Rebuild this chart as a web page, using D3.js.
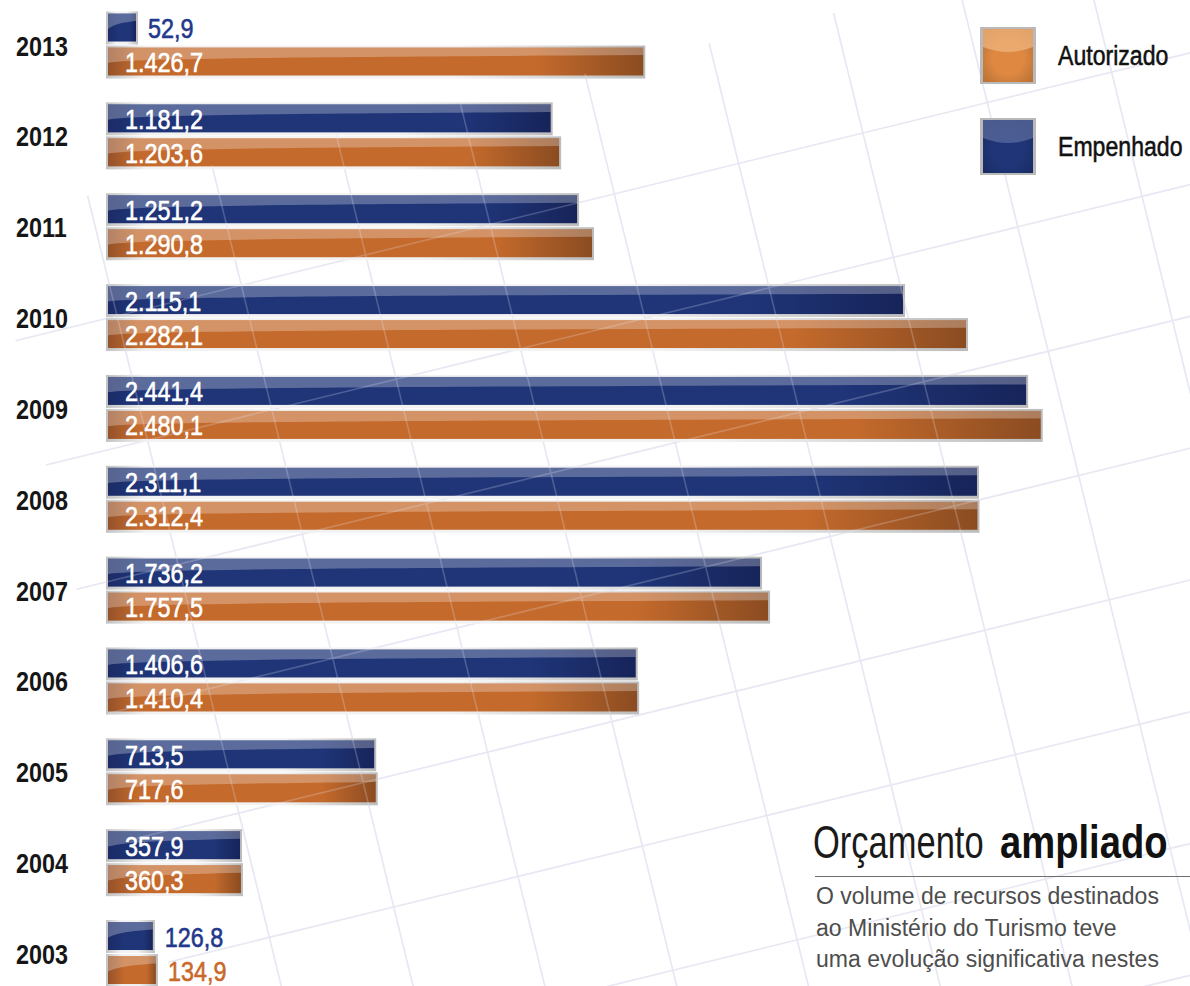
<!DOCTYPE html>
<html>
<head>
<meta charset="utf-8">
<script src="https://cdn.jsdelivr.net/npm/d3@7"></script>
<style>
  html, body { margin: 0; padding: 0; background: #fff; }
  svg { display: block; }
</style>
</head>
<body>
<svg id="chart" width="1190" height="986"></svg>
<script>
// Orçamento do Ministério do Turismo (R$ milhões), 2003–2013
const years = [2013, 2012, 2011, 2010, 2009, 2008, 2007, 2006, 2005, 2004, 2003];
const empenhado  = [52.9, 1181.2, 1251.2, 2115.1, 2441.4, 2311.1, 1736.2, 1406.6, 713.5, 357.9, 126.8];
const autorizado = [1426.7, 1203.6, 1290.8, 2282.1, 2480.1, 2312.4, 1757.5, 1410.4, 717.6, 360.3, 134.9];
const seriesKeys = ["empenhado", "autorizado"];
const legendLabels = ["Autorizado", "Empenhado"];
const titleLight = "Orçamento";
const titleBold = "ampliado";
const bodyLines = [
  "O volume de recursos destinados",
  "ao Ministério do Turismo teve",
  "uma evolução significativa nestes"
];

const FONT = "'Liberation Sans', Arial, Helvetica, sans-serif";
const W = 1190, H = 986;
const svg = d3.select("#chart");
const defs = svg.append("defs");

const ptBR = d3.formatLocale({ decimal: ",", thousands: ".", grouping: [3], currency: ["R$ ", ""] });
const fmt = ptBR.format(",.1f");

// condensed text: a regular face squeezed horizontally
function ctext(parent, x, y, sx, str) {
  return parent.append("text")
    .attr("transform", `translate(${x},${y}) scale(${sx},1)`)
    .attr("font-family", FONT)
    .text(str);
}

const colors = {
  empenhado:  { base: "#1f3578", dark: "#17245a", edge: "#1b2b66", text: "#22388a", gloss: 0.27 },
  autorizado: { base: "#c46a2c", dark: "#8b4c21", edge: "#95522a", text: "#c8692a", gloss: 0.28 }
};

// ---- scales ----
const x = d3.scaleLinear().domain([0, 2500]).range([105, 105 + 0.3773 * 2500]);
const barStart = 108;
const minBar = 28;
const step = 90.85;
const y = d3.scaleBand().domain(years).range([-0.9, -0.9 + step * years.length]).padding(0);
const ySub = d3.scaleBand().domain(seriesKeys).range([-31, 31]).paddingInner(6 / 34);

// ---- background rotated grid ----
const ang = 13.77, gs = 128, uPhase = 38.5, vPhase = 78.6;
const uMin = -66, vMin = 211, uMax = 1500, vMax = 1500;
const vLines = d3.range(0, 10).map(k => uPhase + gs * k);
const hLines = d3.range(2, 11).map(j => vPhase + gs * j);

function drawGrid(g, stroke, width) {
  const gg = g.append("g").attr("transform", `rotate(${-ang})`);
  gg.selectAll("line.v").data(vLines).join("line")
    .attr("x1", d => d).attr("x2", d => d).attr("y1", vMin).attr("y2", vMax)
    .attr("stroke", stroke).attr("stroke-width", width);
  gg.selectAll("line.h").data(hLines).join("line")
    .attr("x1", uMin).attr("x2", uMax).attr("y1", d => d).attr("y2", d => d)
    .attr("stroke", stroke).attr("stroke-width", width);
}
drawGrid(svg.append("g"), "#e6e6f0", 1.6);

// ---- bars ----
const rows = years.map((yr, i) => ({ year: yr, empenhado: empenhado[i], autorizado: autorizado[i] }));
const bars = [];
rows.forEach(r => seriesKeys.forEach(k => bars.push({ year: r.year, key: k, value: r[k] })));

const gBars = svg.append("g");
bars.forEach((b, i) => {
  const c = colors[b.key];
  const cy = y(b.year) + y.bandwidth() / 2;
  const y0 = cy + ySub(b.key);
  const h = ySub.bandwidth();
  const x1 = Math.max(x(b.value), barStart + minBar);
  const w = x1 - barStart;
  b.y0 = y0; b.h = h; b.x1 = x1; b.w = w;

  // frame gradient
  const fg = defs.append("linearGradient").attr("id", "fg" + i)
    .attr("gradientUnits", "userSpaceOnUse")
    .attr("x1", barStart - 2).attr("x2", x1 + 2).attr("y1", 0).attr("y2", 0);
  fg.append("stop").attr("offset", 0).attr("stop-color", "#c2c2c2");
  fg.append("stop").attr("offset", Math.min(0.3, 40 / (w + 4))).attr("stop-color", "#f2f2f2");
  fg.append("stop").attr("offset", 0.65).attr("stop-color", "#f2f2f2");
  fg.append("stop").attr("offset", 1).attr("stop-color", "#bcbcbc");

  // bar body gradient
  const bg = defs.append("linearGradient").attr("id", "bg" + i)
    .attr("gradientUnits", "userSpaceOnUse")
    .attr("x1", barStart).attr("x2", x1).attr("y1", 0).attr("y2", 0);
  bg.append("stop").attr("offset", 0).attr("stop-color", c.edge);
  bg.append("stop").attr("offset", Math.min(0.35, 30 / w)).attr("stop-color", c.base);
  bg.append("stop").attr("offset", 0.8).attr("stop-color", c.base);
  bg.append("stop").attr("offset", 1).attr("stop-color", c.dark);

  const g = gBars.append("g");
  g.append("rect").attr("x", barStart - 2).attr("y", y0 - 2).attr("width", w + 4).attr("height", h + 5)
    .attr("fill", `url(#fg${i})`);
  g.append("rect").attr("x", barStart).attr("y", y0).attr("width", w).attr("height", h)
    .attr("fill", `url(#bg${i})`);
  const gl = d3.path();
  gl.moveTo(barStart, y0);
  gl.lineTo(x1, y0);
  gl.lineTo(x1, y0 + 0.27 * h);
  gl.bezierCurveTo(x1 - w * 0.5, y0 + 0.33 * h, barStart + Math.min(20, w * 0.3), y0 + 0.36 * h, barStart, y0 + 0.55 * h);
  gl.closePath();
  g.append("path").attr("d", gl.toString()).attr("fill", "#fff").attr("opacity", c.gloss);
});

// faint grid highlight over the bars
drawGrid(svg.append("g").attr("opacity", 0.22), "#eef0ff", 1.6);

// ---- value labels ----
const gLab = svg.append("g");
bars.forEach(b => {
  const inside = b.w > 90;
  const col = inside ? "#ffffff" : colors[b.key].text;
  ctext(gLab, inside ? 125 : b.x1 + 12, b.y0 + 24.5, 0.835, fmt(b.value))
    .attr("font-size", 28)
    .attr("fill", col)
    .attr("stroke", col).attr("stroke-width", 0.6);
});

// ---- year labels ----
const gYears = svg.append("g");
years.forEach(yr => {
  ctext(gYears, 16, y(yr) + y.bandwidth() / 2 + 11, 0.835, yr)
    .attr("font-weight", "bold").attr("font-size", 28).attr("fill", "#161616");
});

// ---- legend ----
const legendSeries = ["autorizado", "empenhado"];
const legendBase = { autorizado: "#de8842", empenhado: "#1f3577" };
const legendTop = { autorizado: "#efb47e", empenhado: "#5b6b9e" };
const gLeg = svg.append("g").attr("transform", "translate(980,27)");
legendSeries.forEach((k, i) => {
  const rg = defs.append("radialGradient").attr("id", "lg" + k)
    .attr("cx", 0.5).attr("cy", 0.55).attr("r", 0.7);
  rg.append("stop").attr("offset", 0.45).attr("stop-color", legendBase[k]);
  rg.append("stop").attr("offset", 1).attr("stop-color", d3.color(legendBase[k]).darker(0.6));
  const g = gLeg.append("g").attr("transform", `translate(0,${i * 91})`);
  g.append("rect").attr("width", 56).attr("height", 57).attr("fill", "#b9b9b9");
  g.append("rect").attr("x", 3).attr("y", 2).attr("width", 50).attr("height", 53).attr("fill", `url(#lg${k})`);
  const p = d3.path();
  p.moveTo(3, 2); p.lineTo(53, 2); p.lineTo(53, 20);
  p.quadraticCurveTo(28, 30, 3, 20); p.closePath();
  g.append("path").attr("d", p.toString()).attr("fill", legendTop[k]).attr("opacity", 0.75);
  ctext(g, 78, 38, 0.84, legendLabels[i])
    .attr("font-size", 27.5).attr("fill", "#111")
    .attr("stroke", "#111").attr("stroke-width", 0.55);
});

// ---- title & description ----
ctext(svg, 813, 858, 0.75, titleLight).attr("font-size", 46).attr("fill", "#1a1a1a");
ctext(svg, 1000, 858, 0.83, titleBold).attr("font-size", 46).attr("font-weight", "bold").attr("fill", "#111");

svg.append("line").attr("x1", 815).attr("x2", W).attr("y1", 876.5).attr("y2", 876.5)
  .attr("stroke", "#6e6e6e").attr("stroke-width", 1.2);

bodyLines.forEach((ln, i) => {
  ctext(svg, 816, 904 + i * 31.5, 0.94, ln).attr("font-size", 24.5).attr("fill", "#4d4d4d");
});
</script>
</body>
</html>
